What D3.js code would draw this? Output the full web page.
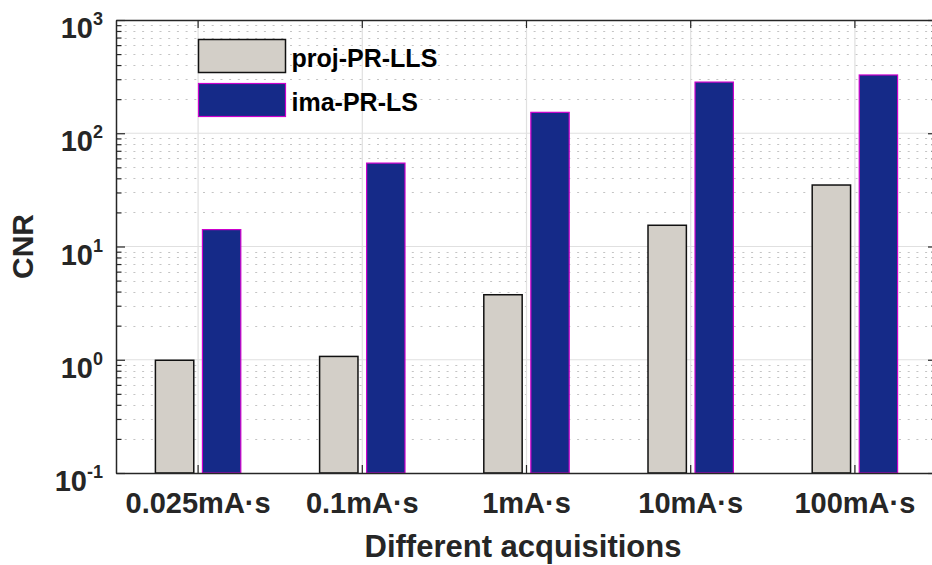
<!DOCTYPE html>
<html>
<head>
<meta charset="utf-8">
<script src="https://cdn.jsdelivr.net/npm/d3@7"></script>
<style>
  html, body { margin: 0; padding: 0; background: #fff; }
  svg { display: block; font-family: "Liberation Sans", Arial, Helvetica, sans-serif; }
</style>
</head>
<body>
<svg id="chart" width="932" height="565"></svg>
<script>
// ---- data ----
const categories = ["0.025mA\u00B7s", "0.1mA\u00B7s", "1mA\u00B7s", "10mA\u00B7s", "100mA\u00B7s"];
const series = ["proj-PR-LLS", "ima-PR-LS"];
const projValues = [0.99, 1.07, 3.75, 15.4, 34.9];
const imaValues = [14.1, 54.5, 153, 283, 327];
const yTickExponents = [-1, 0, 1, 2, 3];
const xLabel = "Different acquisitions";
const yLabel = "CNR";

// ---- layout ----
const svg = d3.select("#chart");
const plot = { left: 116, right: 937, top: 20, bottom: 473 };
const colors = { fill: ["#d3cfc8", "#152a88"], stroke: ["#111111", "#cc00cc"] };
const axisColor = "#262626";

const x0 = d3.scaleBand().domain(categories).range([plot.left, plot.right]).padding(0);
const x1 = d3.scaleBand().domain(series).range([-42.7, 42.7]).paddingInner(0.184).paddingOuter(0);
const y = d3.scaleLog().domain([0.1, 1000]).range([plot.bottom, plot.top]);

const majorTicks = yTickExponents.map(e => Math.pow(10, e));
const minorTicks = [];
for (let e = -1; e < 3; e++) for (let m = 2; m <= 9; m++) minorTicks.push(m * Math.pow(10, e));

// ---- grid ----
const grid = svg.append("g");
grid.selectAll("line.minor").data(minorTicks).enter().append("line")
  .attr("x1", plot.left).attr("x2", plot.right)
  .attr("y1", d => Math.round(y(d)) + 0.5).attr("y2", d => Math.round(y(d)) + 0.5)
  .attr("stroke", "#c4c4c4").attr("stroke-width", 1.2)
  .attr("stroke-dasharray", "2,6.7");
grid.selectAll("line.major").data(majorTicks.slice(1, -1)).enter().append("line")
  .attr("x1", plot.left).attr("x2", plot.right)
  .attr("y1", d => y(d)).attr("y2", d => y(d))
  .attr("stroke", "#e0e0e0").attr("stroke-width", 1.2);
grid.selectAll("line.vert").data(categories).enter().append("line")
  .attr("x1", d => x0(d) + x0.bandwidth() / 2).attr("x2", d => x0(d) + x0.bandwidth() / 2)
  .attr("y1", plot.top).attr("y2", plot.bottom)
  .attr("stroke", "#e0e0e0").attr("stroke-width", 1.2);

// ---- bars ----
const rows = categories.map((c, i) => ({ cat: c, vals: [projValues[i], imaValues[i]] }));
const groups = svg.append("g").selectAll("g").data(rows).enter().append("g")
  .attr("transform", d => `translate(${x0(d.cat) + x0.bandwidth() / 2},0)`);
groups.selectAll("rect").data(d => d.vals.map((v, j) => ({ s: series[j], j, v }))).enter().append("rect")
  .attr("x", d => x1(d.s))
  .attr("width", x1.bandwidth())
  .attr("y", d => y(d.v))
  .attr("height", d => y(0.1) - y(d.v))
  .attr("fill", d => colors.fill[d.j])
  .attr("stroke", d => colors.stroke[d.j])
  .attr("stroke-width", d => d.j === 0 ? 1.5 : 1.2);

// ---- axes ----
function styleAxis(g) {
  g.selectAll("path.domain").attr("stroke", axisColor).attr("stroke-width", 1.5);
  g.selectAll(".tick line").attr("stroke", axisColor).attr("stroke-width", 1.2);
}
// left major
const leftAxis = svg.append("g").attr("transform", `translate(${plot.left},0)`)
  .call(d3.axisLeft(y).tickValues(majorTicks).tickSize(-9).tickSizeOuter(0).tickPadding(13).tickFormat(""));
styleAxis(leftAxis);
leftAxis.selectAll(".tick text").each(function(d) {
  const t = d3.select(this);
  t.attr("dy", null).attr("y", 17.5).attr("fill", axisColor)
    .attr("font-size", "29px").attr("font-weight", "bold").attr("text-anchor", "end");
  t.append("tspan").text("10");
  t.append("tspan").attr("dy", -13).attr("font-size", "18px").text(String(Math.round(Math.log10(d))));
});
// left minor
const leftMinor = svg.append("g").attr("transform", `translate(${plot.left},0)`)
  .call(d3.axisLeft(y).tickValues(minorTicks).tickSize(-5.5).tickSizeOuter(0).tickFormat(""));
styleAxis(leftMinor);
leftMinor.select("path.domain").remove();
// right
const rightAxis = svg.append("g").attr("transform", `translate(${plot.right},0)`)
  .call(d3.axisRight(y).tickValues(majorTicks).tickSize(-9).tickSizeOuter(0).tickFormat(""));
styleAxis(rightAxis);
const rightMinor = svg.append("g").attr("transform", `translate(${plot.right},0)`)
  .call(d3.axisRight(y).tickValues(minorTicks).tickSize(-5.5).tickSizeOuter(0).tickFormat(""));
styleAxis(rightMinor);
rightMinor.select("path.domain").remove();
// bottom
const bottomAxis = svg.append("g").attr("transform", `translate(0,${plot.bottom})`)
  .call(d3.axisBottom(x0).tickSize(-8).tickSizeOuter(0).tickPadding(19));
styleAxis(bottomAxis);
bottomAxis.selectAll(".tick text").attr("fill", axisColor)
  .attr("font-size", "29px").attr("font-weight", "bold")
  .attr("font-family", "\"Liberation Sans\", Arial, Helvetica, sans-serif");
// top
const topAxis = svg.append("g").attr("transform", `translate(0,${plot.top})`)
  .call(d3.axisTop(x0).tickSize(-8).tickSizeOuter(0).tickFormat(""));
styleAxis(topAxis);

// ---- axis labels ----
svg.append("text").attr("x", 523).attr("y", 557).attr("text-anchor", "middle")
  .attr("font-size", "31px").attr("font-weight", "bold").attr("fill", axisColor).text(xLabel);
svg.append("text").attr("transform", `translate(33,${(plot.top + plot.bottom) / 2}) rotate(-90)`)
  .attr("text-anchor", "middle").attr("font-size", "30px").attr("font-weight", "bold")
  .attr("fill", axisColor).text(yLabel);

// ---- legend ----
const legend = svg.append("g").attr("transform", "translate(198.5,39.5)");
const li = legend.selectAll("g").data(series).enter().append("g")
  .attr("transform", (d, i) => `translate(0,${i * 44})`);
li.append("rect").attr("width", 87).attr("height", 33)
  .attr("fill", (d, i) => colors.fill[i]).attr("stroke", (d, i) => colors.stroke[i])
  .attr("stroke-width", (d, i) => i === 0 ? 1.5 : 1.2);
li.append("text").attr("x", 93).attr("y", 27).attr("font-size", "25px").attr("font-weight", "bold")
  .attr("fill", "#000").text(d => d);
</script>
</body>
</html>
